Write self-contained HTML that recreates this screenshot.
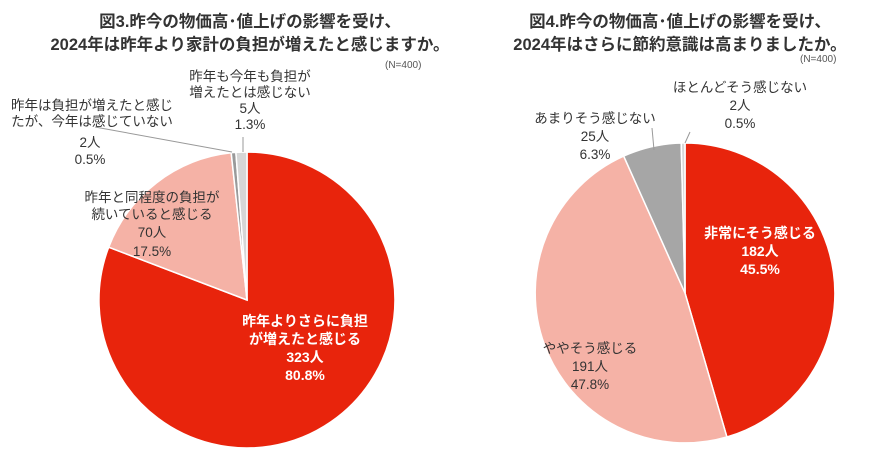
<!DOCTYPE html>
<html><head><meta charset="utf-8"><style>
body{margin:0;background:#fff;}
svg text{font-family:"Liberation Sans","Noto Sans CJK JP",sans-serif;}
</style></head><body>
<svg width="878" height="466" viewBox="0 0 878 466" xmlns="http://www.w3.org/2000/svg">
<rect width="878" height="466" fill="#fff"/>
<g stroke="#fff" stroke-width="1.5">
<path d="M247,300 L247,152 A148,148 0 1 1 108.7,247.2 Z" fill="#e8240c"/>
<path d="M247,300 L108.7,247.2 A148,148 0 0 1 231.2,152.8 Z" fill="#f5b2a6"/>
<path d="M247,300 L231.2,152.8 A148,148 0 0 1 235.9,152.4 Z" fill="#9a9a9a"/>
<path d="M247,300 L235.9,152.4 A148,148 0 0 1 247,152 Z" fill="#d6d6d6"/>
<path d="M685,293 L685,143 A150,150 0 0 1 726.9,437 Z" fill="#e8240c"/>
<path d="M685,293 L726.9,437 A150,150 0 0 1 623.7,156.1 Z" fill="#f5b2a6"/>
<path d="M685,293 L623.7,156.1 A150,150 0 0 1 681.2,143 Z" fill="#a6a6a6"/>
<path d="M685,293 L681.2,143 A150,150 0 0 1 685,143 Z" fill="#d6d6d6"/>
</g>
<g stroke="#999" stroke-width="1" fill="none">
<path d="M95,127 L232,152"/>
<path d="M243,137 L243,152"/>
<path d="M690,132 L685,143"/>
<path d="M652,128 L654,150"/>
</g>
<g font-weight="bold" font-size="16.5" fill="#333" text-anchor="middle">
<text x="250" y="27">図3.昨今の物価高･値上げの影響を受け、</text>
<text x="250" y="50">2024年は昨年より家計の負担が増えたと感じますか。</text>
<text x="680" y="27">図4.昨今の物価高･値上げの影響を受け、</text>
<text x="680" y="50">2024年はさらに節約意識は高まりましたか。</text>
</g>
<g font-size="10" fill="#555">
<text x="385" y="68">(N=400)</text>
<text x="800" y="62">(N=400)</text>
</g>
<g font-size="13.5" fill="#333" text-anchor="middle">
<text x="250" y="81">昨年も今年も負担が</text>
<text x="250" y="97">増えたとは感じない</text>
<text x="250" y="113">5人</text>
<text x="250" y="129">1.3%</text>
<text x="92" y="110">昨年は負担が増えたと感じ</text>
<text x="92" y="126">たが、今年は感じていない</text>
<text x="90" y="147">2人</text>
<text x="90" y="164">0.5%</text>
<text x="152" y="202">昨年と同程度の負担が</text>
<text x="152" y="219">続いていると感じる</text>
<text x="152" y="237">70人</text>
<text x="152" y="256">17.5%</text>
<text x="740" y="92">ほとんどそう感じない</text>
<text x="740" y="110">2人</text>
<text x="740" y="128">0.5%</text>
<text x="595" y="123">あまりそう感じない</text>
<text x="595" y="141">25人</text>
<text x="595" y="159">6.3%</text>
<text x="590" y="353">ややそう感じる</text>
<text x="590" y="371">191人</text>
<text x="590" y="389">47.8%</text>
</g>
<g font-size="14" fill="#fff" font-weight="bold" text-anchor="middle">
<text x="305" y="326">昨年よりさらに負担</text>
<text x="305" y="344">が増えたと感じる</text>
<text x="305" y="362">323人</text>
<text x="305" y="380">80.8%</text>
<text x="760" y="238">非常にそう感じる</text>
<text x="760" y="256">182人</text>
<text x="760" y="274">45.5%</text>
</g>
</svg>
</body></html>
